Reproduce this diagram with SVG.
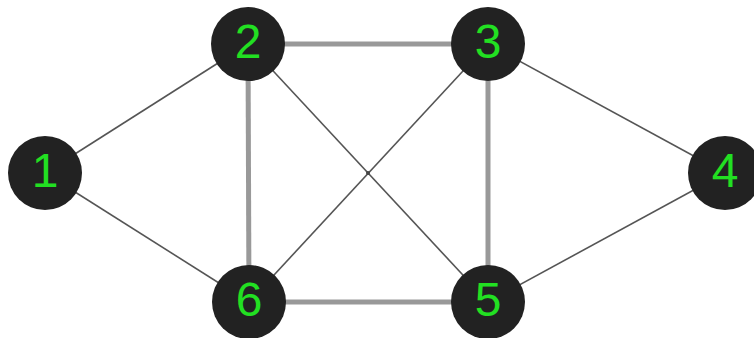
<svg xmlns="http://www.w3.org/2000/svg" width="754" height="338" viewBox="0 0 754 338">
<style>
.thick{stroke:#999;stroke-width:5;fill:none}
.thin{stroke:#555;stroke-width:1.6;fill:none}
.node circle{fill:#222}
.node text{fill:#22e022;font-family:"Liberation Sans",Arial,sans-serif;font-size:48px;text-anchor:middle}
</style>
<rect width="754" height="338" fill="#fff"/>
<g id="edges">
<line class="thick" x1="248" y1="44" x2="488" y2="44"/>
<line class="thick" x1="248" y1="44" x2="249" y2="302"/>
<line class="thick" x1="488" y1="44" x2="488" y2="302"/>
<line class="thick" x1="249" y1="302" x2="488" y2="302"/>
<line class="thin" x1="45" y1="173" x2="248" y2="44"/>
<line class="thin" x1="45" y1="173" x2="249" y2="302"/>
<line class="thin" x1="248" y1="44" x2="488" y2="302"/>
<line class="thin" x1="488" y1="44" x2="249" y2="302"/>
<line class="thin" x1="488" y1="44" x2="725" y2="173"/>
<line class="thin" x1="725" y1="173" x2="488" y2="302"/>
<circle cx="368" cy="173" r="2" fill="#444"/>
</g>
<g id="node1" class="node"><circle cx="45" cy="173" r="37"/><text x="45" y="187">1</text></g>
<g id="node2" class="node"><circle cx="248" cy="44" r="37"/><text x="248" y="58">2</text></g>
<g id="node3" class="node"><circle cx="488" cy="44" r="37"/><text x="488" y="58">3</text></g>
<g id="node4" class="node"><circle cx="725" cy="173" r="37"/><text x="725" y="187">4</text></g>
<g id="node5" class="node"><circle cx="488" cy="302" r="37"/><text x="488" y="316">5</text></g>
<g id="node6" class="node"><circle cx="249" cy="302" r="37"/><text x="249" y="316">6</text></g>
</svg>
